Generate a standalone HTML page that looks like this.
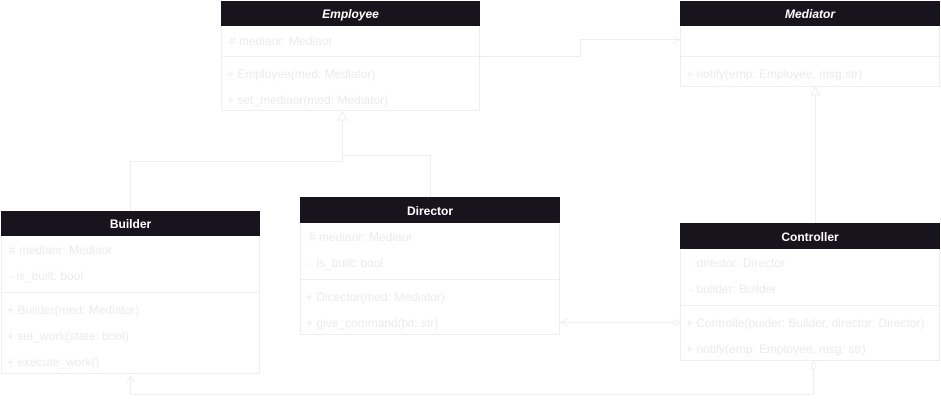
<!DOCTYPE html>
<html><head><meta charset="utf-8"><style>
html,body{margin:0;padding:0;background:#fff;}
svg{display:block}
text{font-family:"Liberation Sans",Arial,sans-serif;font-size:12px;fill:#ebebeb}
.h{fill:#fff;font-weight:bold;font-size:12px}
.i{font-style:italic}
.l{stroke:#eeeeee;fill:none;stroke-width:1}
.b{stroke:#eeeeee;fill:#fff;stroke-width:1}
.hd{fill:#18141d}
</style></head><body>
<svg width="941" height="404" viewBox="0 0 941 404" xmlns="http://www.w3.org/2000/svg">
<path class="l" d="M480.5 56.5H580.5V39.5H679"/>
<path class="l" d="M673 35.5L680 39.5L673 43.5"/>
<path class="l" d="M130.5 211V161.5H342.5V120"/>
<path class="l" d="M430.5 197V155.5H342.5"/>
<path class="l" d="M342.5 112L338 120H347Z"/>
<path class="l" d="M815.5 223V95"/>
<path class="l" d="M815.5 87L811 95H820Z"/>
<path class="l" d="M561 322.5H672"/>
<path class="l" d="M568 318.5L561 322.5L568 326.5"/>
<path class="b" d="M680 322.5L676 320L672 322.5L676 325Z"/>
<path class="l" d="M813.5 371V394.5H130.5V376"/>
<path class="l" d="M126.5 383L130.5 376L134.5 383"/>
<path class="b" d="M813.5 361L816 366L813.5 371L811 366Z"/>

<rect class="b" x="221.5" y="1.5" width="258" height="109"/>
<rect class="hd" x="221" y="1" width="259" height="25"/>
<text class="h i" x="350.5" y="18" text-anchor="middle">Employee</text>
<text x="229" y="45">#  mediaor: Mediaor</text>
<line class="l" x1="221" y1="56.5" x2="480" y2="56.5"/>
<text x="227" y="78">+ Employee(med: Mediator)</text>
<text x="227" y="104">+ set_mediaor(med: Mediator)</text>

<rect class="b" x="680.5" y="1.5" width="259" height="85"/>
<rect class="hd" x="680" y="1" width="260" height="25"/>
<text class="h i" x="810" y="18" text-anchor="middle">Mediator</text>
<line class="l" x1="680" y1="56.5" x2="940" y2="56.5"/>
<text x="686" y="78">+ notify(emp: Employee, msg:str)</text>

<rect class="b" x="1.5" y="211.5" width="258" height="162"/>
<rect class="hd" x="1" y="211" width="259" height="25"/>
<text class="h" x="130.5" y="228" text-anchor="middle">Builder</text>
<text x="9" y="254">#  mediaor: Mediaor</text>
<text x="9" y="280">- is_built: bool</text>
<line class="l" x1="1" y1="292.5" x2="260" y2="292.5"/>
<text x="7" y="314">+ Builder(med: Mediator)</text>
<text x="7" y="340">+ set_work(state: bool)</text>
<text x="7" y="366">+ execute_work()</text>

<rect class="b" x="300.5" y="197.5" width="259" height="137"/>
<rect class="hd" x="300" y="197" width="260" height="26"/>
<text class="h" x="430" y="215" text-anchor="middle">Director</text>
<text x="309" y="241">#  mediaor: Mediaor</text>
<text x="309" y="267">- is_built: bool</text>
<line class="l" x1="300" y1="279.5" x2="560" y2="279.5"/>
<text x="306" y="301">+ Dicector(med: Mediator)</text>
<text x="306" y="327">+ give_command(txt: str)</text>

<rect class="b" x="680.5" y="223.5" width="259" height="137"/>
<rect class="hd" x="680" y="223" width="260" height="26"/>
<text class="h" x="810" y="241" text-anchor="middle">Controller</text>
<text x="689" y="267">- director: Director</text>
<text x="689" y="293">- builder: Builder</text>
<line class="l" x1="680" y1="305.5" x2="940" y2="305.5"/>
<text x="686" y="327">+ Controlle(buider: Builder, director: Director)</text>
<text x="686" y="353">+ notify(emp: Employee, msg: str)</text>
</svg>
</body></html>
